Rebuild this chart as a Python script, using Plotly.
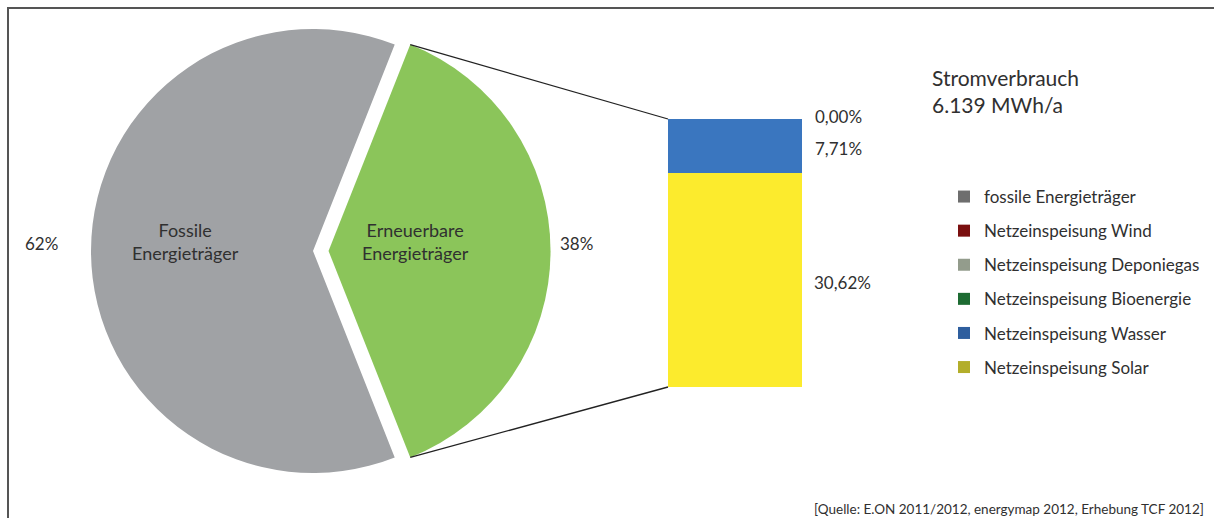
import math
import plotly.graph_objects as go

# ---------------- data ----------------
pie_labels = ["Erneuerbare Energieträger", "Fossile Energieträger"]
pie_values = [38, 62]
pie_colors = ["#8BC55A", "#A0A2A5"]

bar_names = ["Netzeinspeisung Solar", "Netzeinspeisung Wasser", "Netzeinspeisung Bioenergie",
             "Netzeinspeisung Deponiegas", "Netzeinspeisung Wind"]
bar_values = [30.62, 7.71, 0.00, 0.00, 0.00]
bar_colors = ["#FCEB2D", "#3A76BF", "#1D6B32", "#9AA391", "#7A0F0F"]

legend_names = ["fossile Energieträger", "Netzeinspeisung Wind", "Netzeinspeisung Deponiegas",
                "Netzeinspeisung Bioenergie", "Netzeinspeisung Wasser", "Netzeinspeisung Solar"]
legend_colors = ["#6E6E6E", "#7A0F0F", "#939C8C", "#1D6B32", "#2E5E9E", "#B3AE2A"]

title_lines = ["Stromverbrauch", "6.139 MWh/a"]
source_text = "[Quelle: E.ON 2011/2012, energymap 2012, Erhebung TCF 2012]"

# ---------------- geometry ----------------
W, H = 1214, 518
FONT = "Lato"
TXT = "#303030"

pull = 0.07
pie_cx, pie_cy, pie_r = 313, 251, 222          # pixels
box = 2 * pie_r * (1 + pull)
pie_dom_x = [(pie_cx - box / 2) / W, (pie_cx + box / 2) / W]
pie_dom_y = [1 - (pie_cy + box / 2) / H, 1 - (pie_cy - box / 2) / H]

bar_left, bar_right, bar_top, bar_bottom = 668, 802, 119, 387
bar_dom_x = [bar_left / W, bar_right / W]
bar_dom_y = [1 - bar_bottom / H, 1 - bar_top / H]

share = pie_values[0] / sum(pie_values)
half = 180 * share                       # half angle of renewable slice (deg)
rotation = 90 - half                     # renewable slice centred at 3 o'clock

fig = go.Figure()

fig.add_trace(go.Pie(
    labels=pie_labels, values=pie_values, sort=False, direction="clockwise",
    rotation=rotation, pull=[pull, 0],
    marker=dict(colors=pie_colors, line=dict(width=0)),
    textinfo="none", hoverinfo="label+percent", showlegend=False,
    domain=dict(x=pie_dom_x, y=pie_dom_y),
))

for n, v, c in zip(bar_names, bar_values, bar_colors):
    fig.add_trace(go.Bar(
        x=[0], y=[v], name=n, width=1, marker=dict(color=c, line=dict(width=0)),
        xaxis="x", yaxis="y", showlegend=False,
    ))

# legend entries
for i, (n, c) in enumerate(zip(legend_names, legend_colors)):
    fig.add_trace(go.Bar(
        x=[None], y=[None], name=n, marker=dict(color=c, line=dict(width=0)),
        legendgroup=f"g{i}", legendrank=i + 1, hoverinfo="skip",
    ))

total = sum(bar_values)

# connector lines (from slice geometry and bar extents)
off = pull * pie_r
gx = pie_cx + off
top_pt = (gx + pie_r * math.sin(math.radians(rotation)),
          pie_cy - pie_r * math.cos(math.radians(rotation)))
bot_pt = (gx + pie_r * math.sin(math.radians(rotation + 2 * half)),
          pie_cy - pie_r * math.cos(math.radians(rotation + 2 * half)))

shapes = [
    dict(type="line", xref="paper", yref="paper",
         x0=top_pt[0] / W, y0=1 - top_pt[1] / H, x1=bar_dom_x[0], y1=bar_dom_y[1],
         line=dict(color="#222222", width=1.3)),
    dict(type="line", xref="paper", yref="paper",
         x0=bot_pt[0] / W, y0=1 - bot_pt[1] / H, x1=bar_dom_x[0], y1=bar_dom_y[0],
         line=dict(color="#222222", width=1.3)),
    # frame
    dict(type="line", xref="paper", yref="paper", x0=7 / W, x1=1, y0=1 - 8 / H, y1=1 - 8 / H,
         line=dict(color="#555555", width=2)),
    dict(type="line", xref="paper", yref="paper", x0=8 / W, x1=8 / W, y0=0, y1=1 - 7 / H,
         line=dict(color="#555555", width=2)),
]


def fmt(v):
    return f"{v:.2f}%".replace(".", ",")


ann = []


def add(text, x, y, size=17, xanchor="center", align="center"):
    ann.append(dict(text=text, x=x / W, y=1 - y / H, xref="paper", yref="paper",
                    showarrow=False, xanchor=xanchor, yanchor="middle", align=align,
                    font=dict(family=FONT, size=size, color=TXT)))


add(f"{pie_values[1]}%", 41, 243)
add(f"{pie_values[0]}%", 576, 243)
add("Fossile<br>Energieträger", 185, 242, size=18)
add("Erneuerbare<br>Energieträger", 415, 242, size=18)
add(fmt(bar_values[4]), 813, 116, xanchor="left", align="left")
add(fmt(bar_values[1]), 813, 148, xanchor="left", align="left")
add(fmt(bar_values[0]), 812, 282, xanchor="left", align="left")
add("<br>".join(title_lines), 930, 91, size=21, xanchor="left", align="left")
add(source_text, 1206, 509, size=13.5, xanchor="right", align="right")

fig.update_layout(
    width=W, height=H, margin=dict(l=0, r=0, t=0, b=0),
    paper_bgcolor="white", plot_bgcolor="white",
    barmode="stack",
    xaxis=dict(domain=bar_dom_x, range=[-0.5, 0.5], visible=False, fixedrange=True),
    yaxis=dict(domain=bar_dom_y, range=[0, total], visible=False, fixedrange=True),
    shapes=shapes, annotations=ann,
    showlegend=True,
    legend=dict(x=944 / W, y=1 - 179 / H, xanchor="left", yanchor="top",
                traceorder="grouped", tracegroupgap=9,
                font=dict(family=FONT, size=17, color=TXT), itemwidth=30,
                bgcolor="rgba(0,0,0,0)"),
    font=dict(family=FONT),
)

fig.write_html("out.html", config={"displayModeBar": False},
               post_script="document.body.style.margin='0';document.body.style.overflow='hidden';")
